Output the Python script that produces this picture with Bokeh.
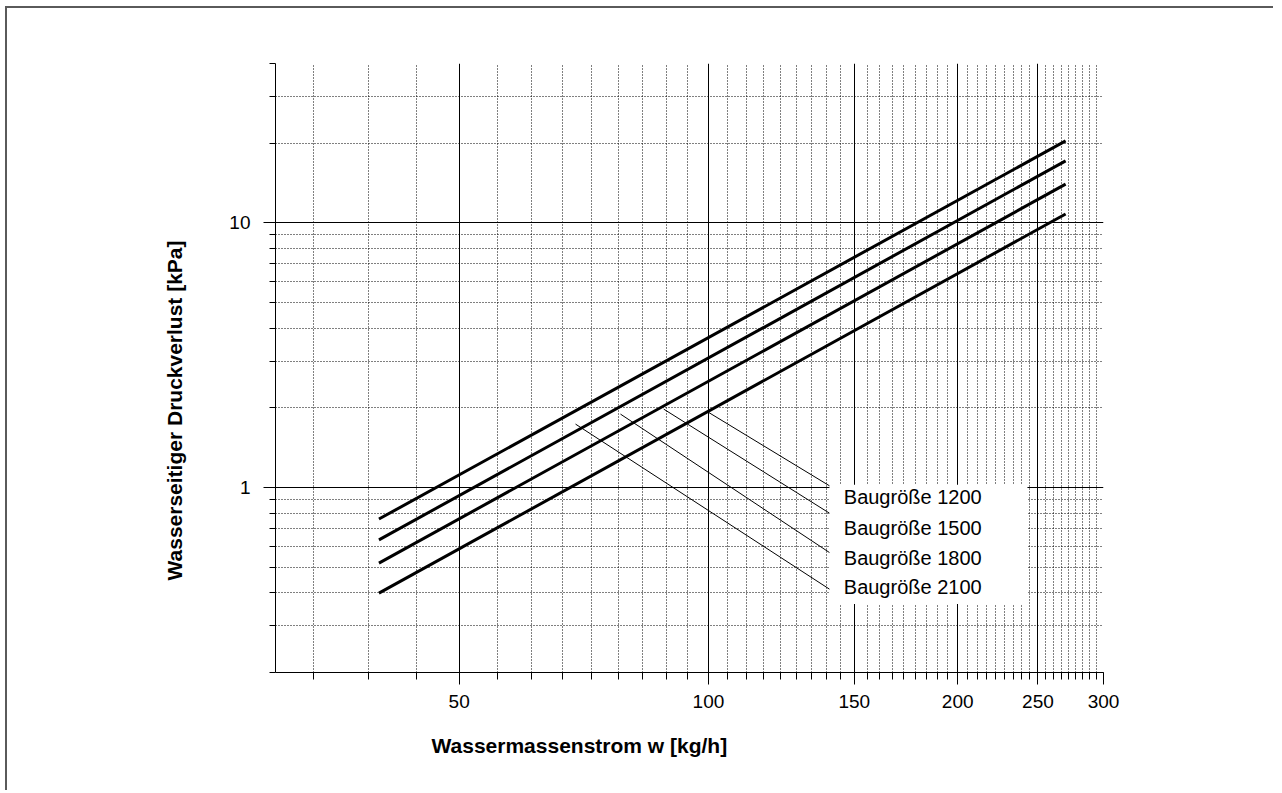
import math
from bokeh.plotting import figure
from bokeh.models import FixedTicker, PrintfTickFormatter, Title
from bokeh.embed import file_html
from bokeh.resources import INLINE
from bokeh.core.properties import value

# ---------------- data ----------------
flow = [40, 270]                 # Wassermassenstrom w [kg/h]
dp_2100 = [0.760, 20.4]          # Druckverlust [kPa]
dp_1800 = [0.634, 17.15]
dp_1500 = [0.518, 14.0]
dp_1200 = [0.399, 10.8]

series_labels = ["Baugröße 1200", "Baugröße 1500", "Baugröße 1800", "Baugröße 2100"]

x_major_ticks = [50, 100, 150, 200, 250, 300]
y_major_ticks = [1, 10]

# leader lines (from curve region to the label box)
leader_x0 = [100.1, 88.3, 78.3, 69.1]
leader_y0 = [1.92, 1.978, 1.894, 1.736]
leader_x1 = [140, 140, 140, 140]
leader_y1 = [1.015, 0.800, 0.568, 0.413]

# ---------------- ticks / grid ----------------
x_minor = [50 * k / 9 for k in range(6, 55)]
x_grid_major = [50, 100, 150, 200, 250]
x_grid_minor = [v for v in x_minor if all(abs(v - m) > 1e-6 for m in x_major_ticks)]

y_minor_axis = [0.2, 0.3, 0.4, 0.5, 0.6, 0.7, 0.8, 0.9, 2, 3, 4, 5, 6, 7, 8, 9, 20, 30, 40]
y_grid_minor = [0.3, 0.4, 0.5, 0.6, 0.7, 0.8, 0.9, 2, 3, 4, 5, 6, 7, 8, 9, 20, 30]

FONT = "Liberation Sans"

p = figure(
    x_axis_type="log", y_axis_type="log",
    x_range=(30, 300), y_range=(0.2, 40),
    frame_width=828, frame_height=609,
    min_border_left=268, min_border_right=170,
    min_border_top=55, min_border_bottom=118,
    output_backend="svg", toolbar_location=None,
    background_fill_color="white", border_fill_color="white",
)
p.outline_line_color = None
# outer frame: left and top edges of a box that runs past the window
p.styles = {"margin-left": "5px", "margin-top": "6px",
            "border-left": "2px solid #5a5a5a", "border-top": "2px solid #5a5a5a"}

# axes
for ax in (p.xaxis[0], p.yaxis[0]):
    ax.axis_line_color = "black"
    ax.axis_line_width = 1
    ax.major_tick_line_color = "black"
    ax.minor_tick_line_color = "black"
    ax.major_tick_in = 0
    ax.minor_tick_in = 0
    ax.major_tick_out = 12
    ax.major_label_text_font = FONT
    ax.major_label_text_font_size = "19px"
    ax.major_label_text_color = "black"
    ax.formatter = PrintfTickFormatter(format="%d")

p.xaxis.ticker = FixedTicker(ticks=x_major_ticks, minor_ticks=x_minor)
p.xaxis.minor_tick_out = 7
p.xaxis.major_label_standoff = 10
p.yaxis.ticker = FixedTicker(ticks=y_major_ticks, minor_ticks=y_minor_axis)
p.yaxis.minor_tick_out = 6
p.yaxis.major_label_standoff = 13

# grids
p.xgrid.ticker = FixedTicker(ticks=x_grid_major, minor_ticks=x_grid_minor)
p.ygrid.ticker = FixedTicker(ticks=y_major_ticks, minor_ticks=y_grid_minor)
for g in (p.xgrid[0], p.ygrid[0]):
    g.grid_line_color = "black"
    g.grid_line_width = 1
    g.grid_line_alpha = 1
    g.minor_grid_line_color = "black"
    g.minor_grid_line_width = 1
    g.minor_grid_line_dash = "1 2"

# white label box
p.quad(left=[140], right=[242.8], bottom=[0.363], top=[1.024],
       fill_color="white", line_color=None)

# curves
for ys in (dp_2100, dp_1800, dp_1500, dp_1200):
    p.line(flow, ys, line_color="black", line_width=3)

# leader lines
p.segment(x0=leader_x0, y0=leader_y0, x1=leader_x1, y1=leader_y1,
          line_color="black", line_width=1)

# labels
p.text(x=[145.7] * 4, y=[0.917, 0.706, 0.541, 0.419], text=series_labels,
       text_font=value(FONT), text_font_size="20px",
       text_align="left", text_baseline="middle", text_color="black")

# axis titles
p.add_layout(Title(text="Wassermassenstrom  w [kg/h]", align="left", offset=156,
                   standoff=43, text_font=FONT, text_font_style="bold",
                   text_font_size="21px", text_color="black"), "below")
p.add_layout(Title(text="Wasserseitiger Druckverlust  [kPa]", align="left", offset=92,
                   standoff=81, text_font=FONT, text_font_style="bold",
                   text_font_size="21px", text_color="black"), "left")

open("out.html", "w").write(file_html(p, INLINE))
